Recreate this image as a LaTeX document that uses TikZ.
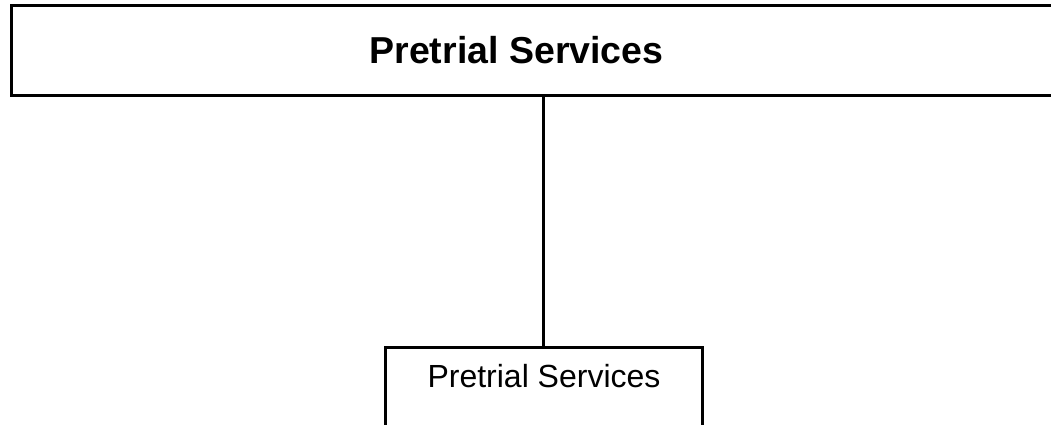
\documentclass[tikz,border=0pt]{standalone}
\usepackage{fontspec}
\setmainfont{Liberation Sans}
\begin{document}
\begin{tikzpicture}[x=1pt,y=1pt,
  boxstyle/.style={draw=black, line width=3pt, fill=white, inner sep=0pt},
  conn/.style={draw=black, line width=2.2pt},
  lbl/.style={inner sep=0pt, anchor=base}]
\useasboundingbox (0,0) rectangle (1051,-425);
\clip (0,0) rectangle (1051,-425);
\fill[white] (0,0) rectangle (1051,-425);
\node[boxstyle, minimum width=1060pt, minimum height=90pt] (top) at (541,-51) {};
\node[boxstyle, minimum width=317pt, minimum height=110pt] (bot) at (543.5,-402) {};
\draw[conn] (bot.north) -- (bot.north |- top.south);
\node[lbl, font=\fontsize{37.5}{42}\selectfont\bfseries] (toptext) at (516.5,-64) {Pretrial Services};
\node[lbl, font=\fontsize{32}{38}\selectfont] (bottext) at (544,-387) {Pretrial Services};
\end{tikzpicture}
\end{document}
